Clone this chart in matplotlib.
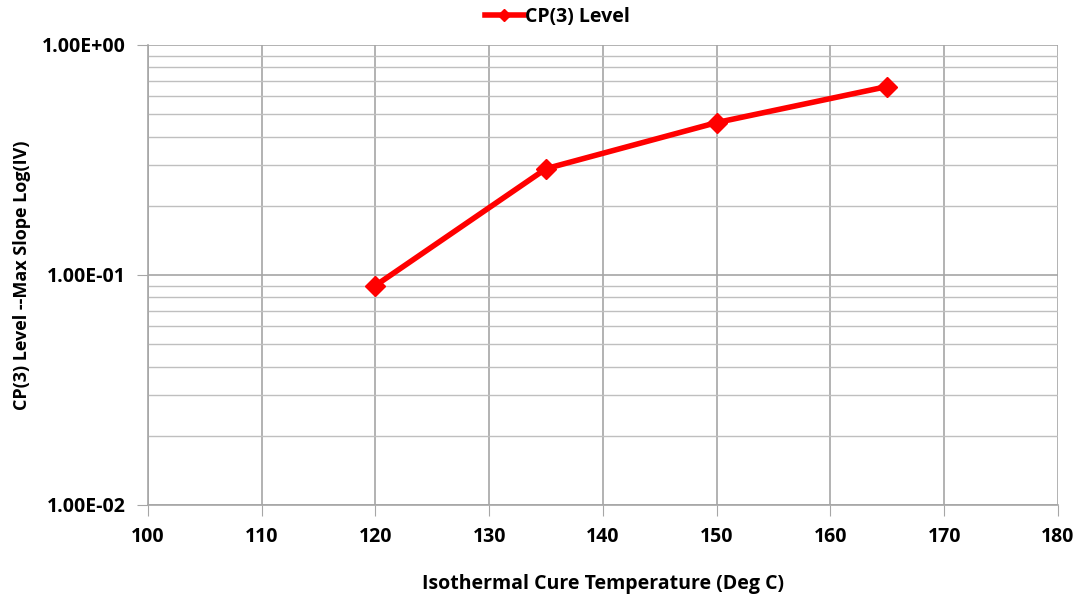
import matplotlib
matplotlib.use("Agg")
import matplotlib.pyplot as plt
from matplotlib.ticker import LogLocator, FixedLocator, NullFormatter

temps = [120, 135, 150, 165]
cp3_level = [0.090, 0.29, 0.46, 0.66]

plt.rcParams["font.family"] = ["Open Sans", "DejaVu Sans"]
plt.rcParams["font.weight"] = "bold"

fig = plt.figure(figsize=(10.78, 5.96), dpi=100)
ax = fig.add_axes([0.1373, 0.1527, 0.8441, 0.7718])

ax.plot(temps, cp3_level, color="#ff0000", linewidth=4, marker="D",
        markersize=10, label="CP(3) Level", zorder=3)

ax.set_yscale("log")
ax.set_xlim(100, 180)
ax.set_ylim(0.01, 1.0)
ax.xaxis.set_major_locator(FixedLocator(range(100, 181, 10)))
ax.yaxis.set_major_locator(FixedLocator([0.01, 0.1, 1.0]))
ax.yaxis.set_minor_locator(LogLocator(base=10, subs=range(2, 10)))
ax.yaxis.set_minor_formatter(NullFormatter())
ax.set_yticklabels(["1.00E-02", "1.00E-01", "1.00E+00"])

ax.grid(True, which="major", color="#a6a6a6", linewidth=1.2)
ax.grid(True, which="minor", axis="y", color="#bfbfbf", linewidth=1.0)

for side in ["top", "right"]:
    ax.spines[side].set_visible(False)
for side in ["left", "bottom"]:
    ax.spines[side].set_color("#a6a6a6")
    ax.spines[side].set_linewidth(1.2)
ax.tick_params(axis="both", which="major", length=8, color="#a6a6a6",
               labelsize=14, pad=8)
ax.tick_params(axis="y", which="minor", length=0)

ax.set_xlabel("Isothermal Cure Temperature (Deg C)", fontsize=14,
              fontweight="bold", labelpad=19)
ax.set_ylabel("CP(3) Level --Max Slope Log(IV)", fontsize=13,
              fontweight="bold", labelpad=8)

leg = ax.legend(loc="center", bbox_to_anchor=(0.45, 1.061), frameon=False,
                fontsize=14, handlelength=2.0, handletextpad=0.1,
                markerscale=0.6, borderpad=0)

fig.savefig("out.png", dpi=100)
